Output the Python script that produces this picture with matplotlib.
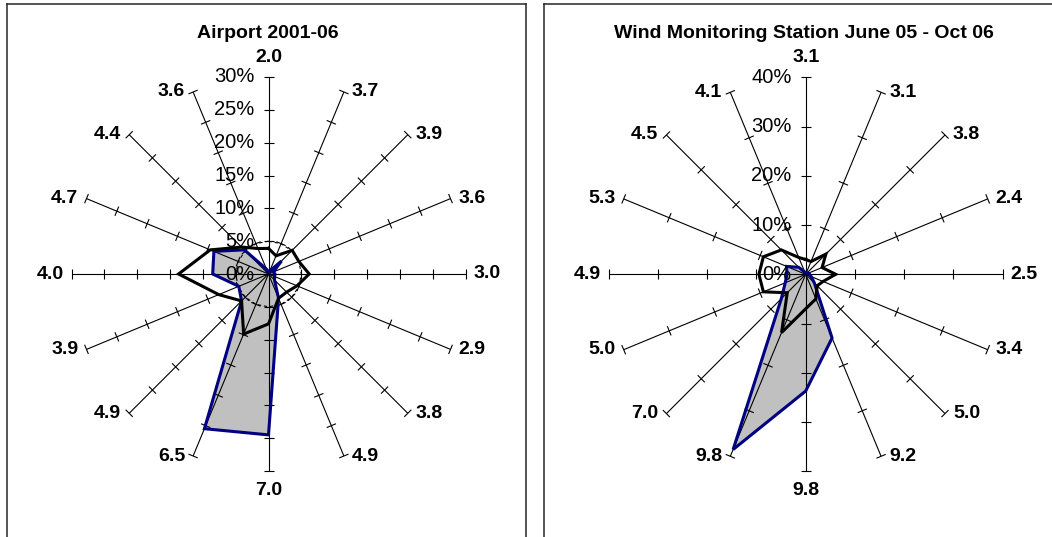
import matplotlib
matplotlib.use('Agg')
import matplotlib.pyplot as plt
from matplotlib.collections import LineCollection
import numpy as np

plt.rcParams['font.family'] = ['Liberation Sans', 'DejaVu Sans']

# ---------------- data ----------------
directions = ['N', 'NNE', 'NE', 'ENE', 'E', 'ESE', 'SE', 'SSE',
              'S', 'SSW', 'SW', 'WSW', 'W', 'WNW', 'NW', 'NNW']

airport_title = 'Airport 2001-06'
airport_speed_labels = ['2.0', '3.7', '3.9', '3.6', '3.0', '2.9', '3.8', '4.9',
                        '7.0', '6.5', '4.9', '3.9', '4.0', '4.7', '4.4', '3.6']
airport_energy = [0.3, 0.5, 2.8, 0.8, 1.0, 1.0, 1.3, 4.0,
                  24.5, 25.5, 5.8, 4.9, 8.5, 9.0, 5.2, 0.8]
airport_freq = [3.9, 3.0, 5.1, 5.0, 6.2, 4.7, 3.9, 4.0,
                7.6, 9.9, 5.8, 8.2, 13.7, 9.6, 5.8, 4.2]
airport_ring = [5, 5, 5, 5, 5, 5, 5, 5, 5, 5, 5, 5, 5, 5, 5, 5]
airport_ticks = [0, 5, 10, 15, 20, 25, 30]

station_title = 'Wind Monitoring Station June 05 - Oct 06'
station_speed_labels = ['3.1', '3.1', '3.8', '2.4', '2.5', '3.4', '5.0', '9.2',
                        '9.8', '9.8', '7.0', '5.0', '4.9', '5.3', '4.5', '4.1']
station_energy = [0.3, 0.3, 0.4, 0.5, 0.8, 1.2, 2.5, 14.0,
                  23.7, 38.5, 7.0, 4.5, 3.8, 4.2, 2.0, 0.5]
station_freq = [3.0, 2.8, 5.8, 3.6, 6.1, 3.8, 3.3, 5.4,
                7.0, 12.8, 5.3, 9.3, 9.5, 9.3, 7.0, 3.7]
station_ticks = [0, 10, 20, 30, 40]

# ---------------- layout ----------------
W, H = 1052, 537
R_PX = 197.0
fig = plt.figure(figsize=(W / 100, H / 100), dpi=100)

theta = np.deg2rad(np.arange(len(directions)) * 22.5)
sx, sy = np.sin(theta), np.cos(theta)


def closed(values):
    v = np.asarray(values, float)
    x, y = v * sx, v * sy
    return np.append(x, x[0]), np.append(y, y[0])


def radar(box, center, ticks, labels, energy, freq, title, title_dx, ring=None):
    x0, y0, x1, y1 = box
    cx, cy = center
    vmax = ticks[-1]
    k = vmax / R_PX
    ax = fig.add_axes([x0 / W, 1 - y1 / H, (x1 - x0) / W, (y1 - y0) / H])
    ax.set_xlim((x0 - cx) * k, (x1 - cx) * k)
    ax.set_ylim((cy - y1) * k, (cy - y0) * k)
    ax.set_xticks([])
    ax.set_yticks([])
    for s in ax.spines.values():
        s.set_color('#262626')
        s.set_linewidth(1.1)

    # series
    ex, ey = closed(energy)
    ax.fill(ex, ey, facecolor='#C0C0C0', edgecolor='none', zorder=1)

    # spokes and ticks
    segs = []
    h = 5.0 * k
    for i in range(len(directions)):
        segs.append([(0, 0), (vmax * sx[i], vmax * sy[i])])
        for t in ticks[1:]:
            px, py = t * sx[i], t * sy[i]
            segs.append([(px - h * sy[i], py + h * sx[i]),
                         (px + h * sy[i], py - h * sx[i])])
    ax.add_collection(LineCollection(segs, colors='black', linewidths=0.8, zorder=2))

    if ring is not None:
        rx, ry = closed(ring)
        ax.plot(rx, ry, color='black', lw=0.8, ls=(0, (3, 2.5)), zorder=3)

    ax.plot(ex, ey, color='#000080', lw=2.2, zorder=3, solid_joinstyle='miter')
    fx, fy = closed(freq)
    ax.plot(fx, fy, color='black', lw=2.2, zorder=4, solid_joinstyle='miter')

    # value labels
    for t in ticks:
        ax.text(-14 * k, t, f'{t}%', ha='right', va='center', fontsize=14.5, zorder=6)

    # category labels
    for i, lab in enumerate(labels):
        ex_, ey_ = R_PX * sx[i], R_PX * sy[i]
        if i == 0:
            pos, ha, va = (0, R_PX + 11), 'center', 'bottom'
        elif i == 8:
            pos, ha, va = (0, -(R_PX + 11)), 'center', 'top'
        elif i < 8:
            pos, ha, va = (ex_ + 8, ey_), 'left', 'center'
        else:
            pos, ha, va = (ex_ - 8, ey_), 'right', 'center'
        ax.text(pos[0] * k, pos[1] * k, lab, ha=ha, va=va, fontsize=14,
                fontweight='bold', zorder=6)

    ax.text(title_dx * k, (cy - 34) * k, title, ha='center', va='center',
            fontsize=14, fontweight='bold', zorder=6)
    return ax


radar((6.5, 4, 526, 560), (268.5, 274), airport_ticks, airport_speed_labels,
      airport_energy, airport_freq, airport_title, -1, ring=airport_ring)
radar((544, 4, 1070, 560), (805.7, 274.3), station_ticks, station_speed_labels,
      station_energy, station_freq, station_title, -2)

fig.savefig('out.png', dpi=100)
